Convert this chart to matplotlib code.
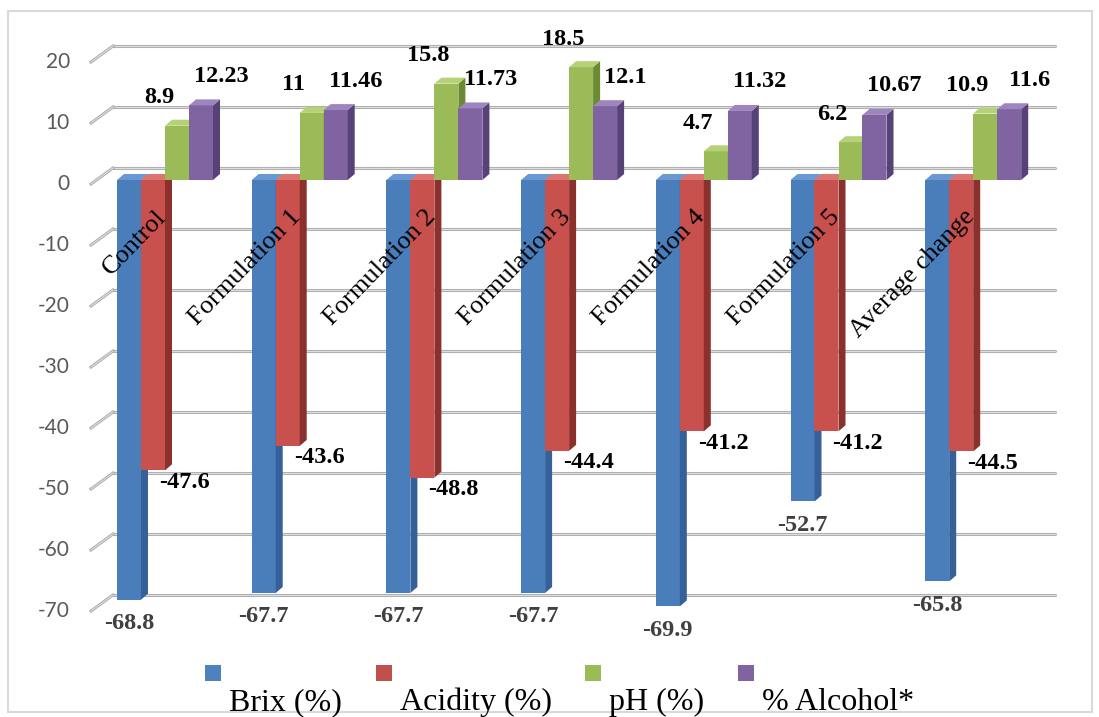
import matplotlib.pyplot as plt
from matplotlib.patches import Polygon, Rectangle
import numpy as np

# data
categories = ['Control', 'Formulation 1', 'Formulation 2', 'Formulation 3',
              'Formulation 4', 'Formulation 5', 'Average change']
brix = [-68.8, -67.7, -67.7, -67.7, -69.9, -52.7, -65.8]
acidity = [-47.6, -43.6, -48.8, -44.4, -41.2, -41.2, -44.5]
ph = [8.9, 11, 15.8, 18.5, 4.7, 6.2, 10.9]
alcohol = [12.23, 11.46, 11.73, 12.1, 11.32, 10.67, 11.6]
series_names = ['Brix (%)', 'Acidity (%)', 'pH (%)', '% Alcohol*']
yticks = [20, 10, 0, -10, -20, -30, -40, -50, -60, -70]

front = ['#4a7ebb', '#c8504d', '#9bbb59', '#8064a2']
side = ['#35609a', '#8c302d', '#6c8a33', '#574177']
top = ['#6a98d2', '#dc7470', '#b6d276', '#9d85be']
legend_cols = ['#4f81bd', '#c0504d', '#9bbb59', '#8064a2']

W, H = 1099, 717
PX = 134.7      # pixels per category
PY = 6.1        # pixels per unit
X0, Y0 = 165, 180

fig = plt.figure(figsize=(W / 100, H / 100), dpi=100)
ax = fig.add_axes([0, 0, 1, 1])
ax.set_xlim(-X0 / PX, (W - X0) / PX)
ax.set_ylim((Y0 - H) / PY, Y0 / PY)
ax.axis('off')

sx = 1 / PX   # one pixel in x data units
sy = 1 / PY   # one pixel in y data units

# outer frame
fig.patches.append(Rectangle((8 / W, 1 - 712 / H), 1084 / W, 701 / H,
                             transform=fig.transFigure, fill=False,
                             ec='#d9d9d9', lw=1.5))

# back wall gridlines + side wall strokes + tick labels
gx0, gx1 = (113 - X0) * sx, (1055 - X0) * sx
back = 12 * sy
for v in yticks:
    yb = v + back
    ax.plot([gx0, gx1], [yb, yb], color='#b0b0b0', lw=2.2, zorder=1,
            solid_capstyle='round')
    ax.plot([gx0, gx1], [yb, yb], color='#e6e6e6', lw=0.6, zorder=1)
    ax.plot([gx0 - 22 * sx, gx0], [yb - 16 * sy, yb], color='#b0b0b0',
            lw=2.2, zorder=1)
    ax.plot([gx0 - 22 * sx, gx0], [yb - 16 * sy, yb], color='#e6e6e6',
            lw=0.6, zorder=1)
    ax.text((70 - X0) * sx, yb - 16 * sy, str(v), ha='right', va='center',
            fontsize=15, color='#595959', family='Lato')

# bars with a fake depth
x = np.arange(len(categories))
bw = 24 * sx
dx, dy = 7 * sx, 6 * sy
data = [brix, acidity, ph, alcohol]
for k, vals in enumerate(data):
    pos = x + (k - 1.5) * bw
    bars = ax.bar(pos, vals, width=bw, color=front[k], zorder=3 + k,
                  linewidth=0)
    for b in bars:
        x0 = b.get_x()
        x1 = x0 + b.get_width()
        lo = min(0, b.get_height())
        hi = max(0, b.get_height())
        ax.add_patch(Polygon([(x1, lo), (x1 + dx, lo + dy), (x1 + dx, hi + dy),
                              (x1, hi)], closed=True, fc=side[k], ec='none',
                             zorder=3 + k))
        ax.add_patch(Polygon([(x0, hi), (x1, hi), (x1 + dx, hi + dy),
                              (x0 + dx, hi + dy)], closed=True, fc=top[k],
                             ec='none', zorder=3 + k))

# data labels
lab = dict(fontsize=17.5, fontweight='bold', family='Liberation Serif',
           zorder=10)
for i in x:
    c = i - 1.5 * bw
    ax.text(c, brix[i] - 24 * sy, f'{brix[i]:g}', ha='center', va='center',
            color='#404040', **lab)
    c = i - 0.5 * bw
    ax.text(c + 6 * sx, acidity[i] - 12 * sy, f'{acidity[i]:g}', ha='left',
            va='center', color='black', **lab)
    c = i + 0.5 * bw
    ax.text(c - 18 * sx, ph[i] + 28 * sy, f'{ph[i]:g}', ha='center',
            va='center', color='black', **lab)
    c = i + 1.5 * bw
    ax.text(c + 20 * sx, alcohol[i] + 29 * sy, f'{alcohol[i]:g}', ha='center',
            va='center', color='black', **lab)

# category labels, rotated inside the plot
for i, name in enumerate(categories):
    ax.text(i - 10 * sx, -26 * sy, name, rotation=46, rotation_mode='anchor',
            ha='right', va='top', fontsize=19, family='Liberation Serif',
            zorder=12)

# legend: marker above, text below
leg_x = [205, 376, 585, 738]
for k, name in enumerate(series_names):
    fig.patches.append(Rectangle((leg_x[k] / W, 1 - 681 / H), 16 / W, 16 / H,
                                 transform=fig.transFigure, fc=legend_cols[k],
                                 ec='none'))
    fig.text((leg_x[k] + 24) / W, 1 - 710 / H, name, ha='left',
             va='baseline', fontsize=23, family='Liberation Serif')

fig.savefig('out.png', dpi=100, facecolor='white')
